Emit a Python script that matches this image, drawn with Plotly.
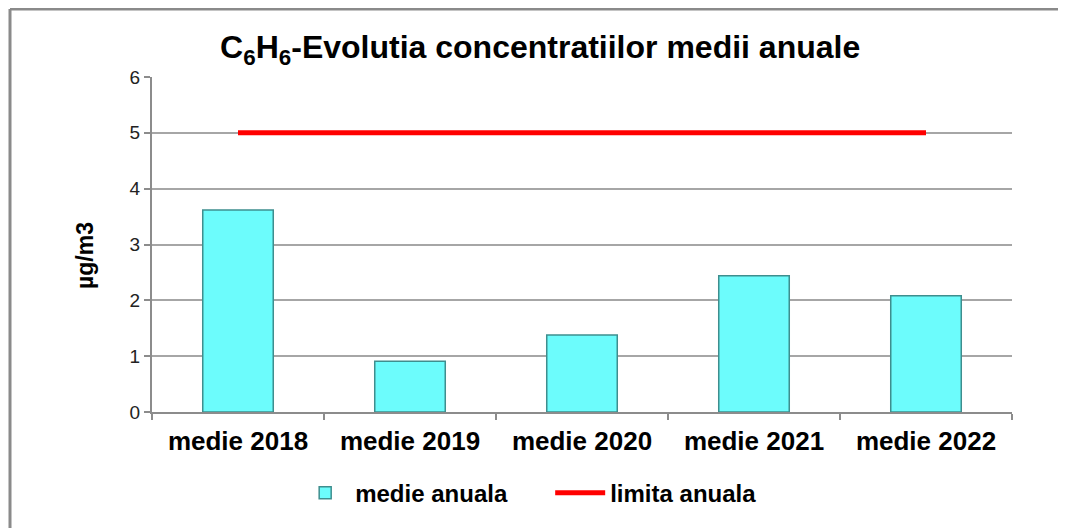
import plotly.graph_objects as go

categories = ["medie 2018", "medie 2019", "medie 2020", "medie 2021", "medie 2022"]
medie_anuala = [3.62, 0.91, 1.38, 2.44, 2.08]
limita_anuala = [5, 5, 5, 5, 5]
y_ticks = [0, 1, 2, 3, 4, 5, 6]

FONT = "Liberation Sans, Arial, sans-serif"

fig = go.Figure()
fig.add_trace(go.Bar(
    x=categories, y=medie_anuala, name="<b>medie anuala</b>",
    marker=dict(color="#6CFCFC", line=dict(color="#3E8E8E", width=1.5)),
))
fig.add_trace(go.Scatter(
    x=categories, y=limita_anuala, name="<b>limita anuala</b>", mode="lines",
    line=dict(color="#FF0000", width=5),
))

# page has 8px body offset; figure sized to fill the rest
W, H = 1058, 520
L, R, T, B = 144, 54, 69, 116
pw, ph = W - L - R, H - T - B
bx = (2 - L) / pw
ty = 1 + (T - 1) / ph
by = -(H - T - ph) / ph - 0.05
rx = (W - L) / pw + 0.05

fig.update_layout(
    width=W, height=H,
    margin=dict(l=L, r=R, t=T, b=B),
    paper_bgcolor="white", plot_bgcolor="white",
    font=dict(family=FONT, color="#000000"),
    title=dict(text="<b>C<sub>6</sub>H<sub>6</sub>-Evolutia concentratiilor medii anuale</b>",
               x=0.503, xanchor="center", y=0.925, yanchor="middle",
               font=dict(size=32, family=FONT)),
    bargap=0.59,
    showlegend=True,
    legend=dict(orientation="h", x=0.463, xanchor="center", y=-0.242, yanchor="middle",
                font=dict(size=24, family=FONT),
                itemwidth=50, traceorder="normal", entrywidthmode="pixels", entrywidth=190),
    xaxis=dict(
        showline=True, linecolor="#8C8C8C", linewidth=2,
        ticks="outside", ticklen=6, tickcolor="#8C8C8C", tickwidth=2,
        tickson="boundaries", showgrid=False,
        tickfont=dict(size=26, family=FONT),
        tickprefix="<b>", ticksuffix="</b>",
        ticklabelstandoff=5,
    ),
    yaxis=dict(
        range=[0, 6], tickvals=y_ticks,
        showline=True, linecolor="#8C8C8C", linewidth=2,
        ticks="outside", ticklen=6, tickcolor="#8C8C8C", tickwidth=2,
        showgrid=True, gridcolor="#A6A6A6", gridwidth=2,
        tickfont=dict(size=19, color="#222222", family=FONT),
        zeroline=False,
    ),
    annotations=[
        dict(text="<b>µg/m3</b>", xref="paper", yref="paper",
             x=(77 - L) / pw, y=0.5 + (ph / 2 - (256 - 8 - T)) / ph,
             xanchor="center", yanchor="middle", textangle=-90, showarrow=False,
             font=dict(size=23, family=FONT)),
    ],
    shapes=[
        dict(type="line", xref="paper", yref="paper", x0=bx, x1=bx, y0=by, y1=ty,
             line=dict(color="#8A8A8A", width=3)),
        dict(type="line", xref="paper", yref="paper", x0=bx, x1=rx, y0=ty, y1=ty,
             line=dict(color="#8A8A8A", width=3)),
    ],
)

fig.write_html("out.html")
